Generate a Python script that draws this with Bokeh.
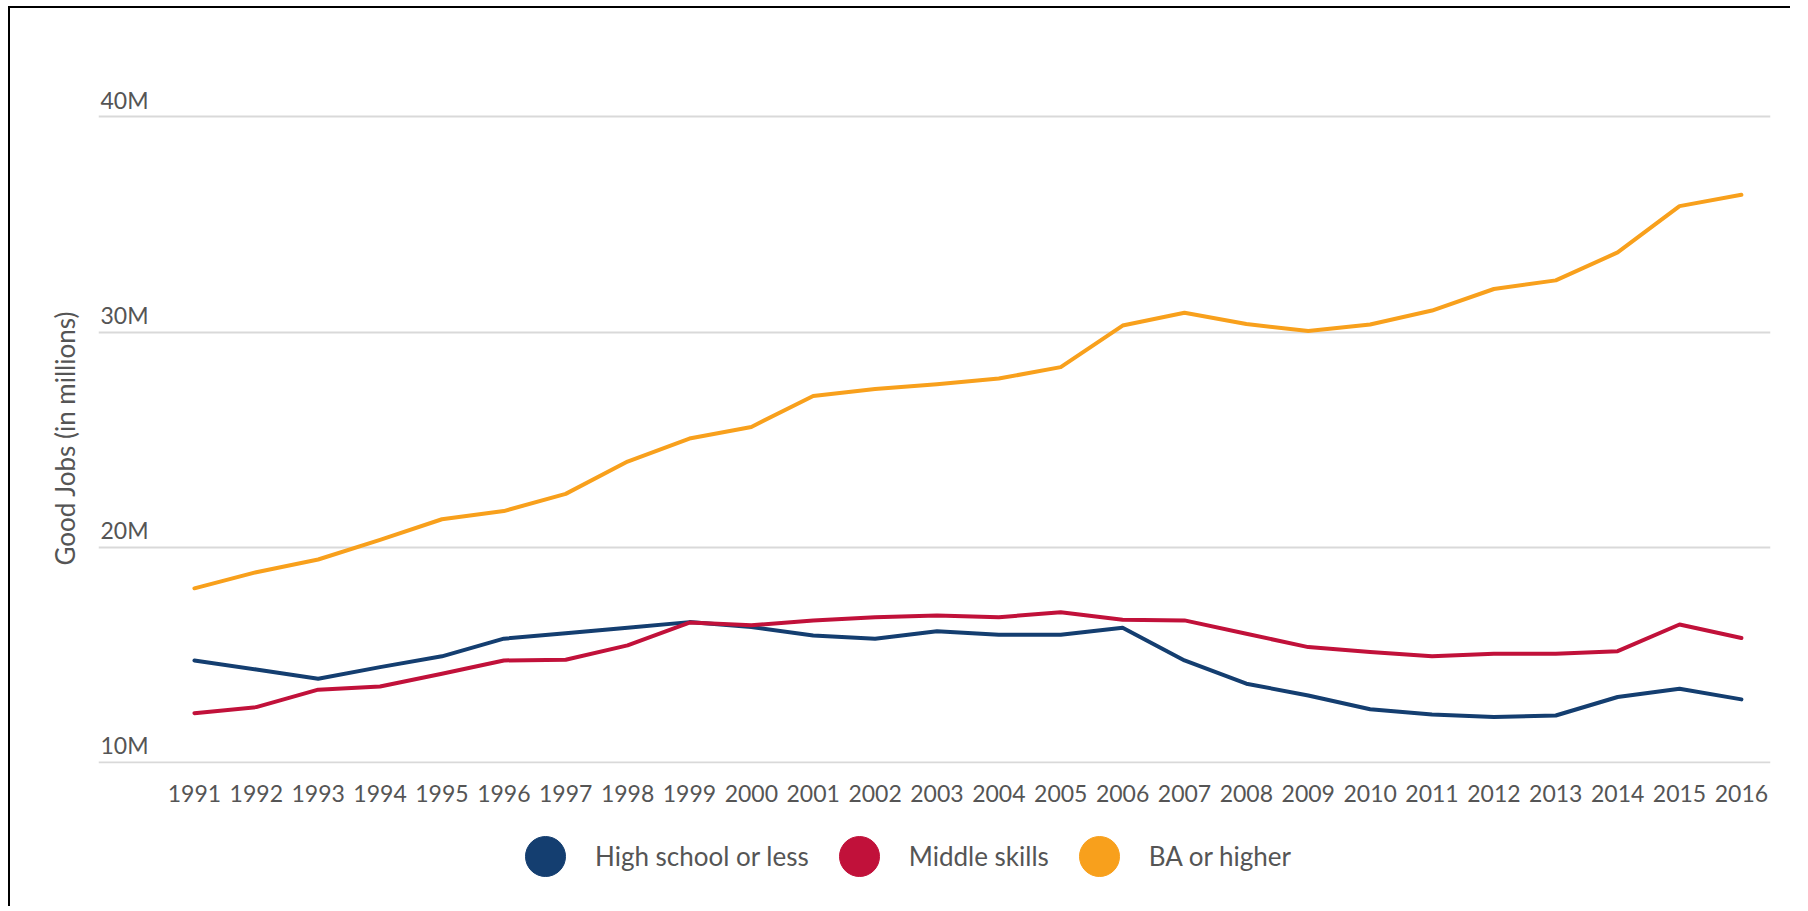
from bokeh.plotting import figure
from bokeh.layouts import column
from bokeh.models import ColumnDataSource, FixedTicker, Legend, LegendItem, Title
from bokeh.core.properties import value
from bokeh.embed import file_html
from bokeh.resources import INLINE

# ---- data (millions of good jobs) ----
years = list(range(1991, 2017))
high_school = [14.74, 14.32, 13.89, 14.43, 14.93, 15.75, 16.00, 16.26, 16.52, 16.29,
               15.90, 15.75, 16.10, 15.93, 15.93, 16.26, 14.74, 13.66, 13.11, 12.47,
               12.23, 12.11, 12.18, 13.04, 13.42, 12.93]
middle_skills = [12.29, 12.57, 13.38, 13.53, 14.12, 14.74, 14.77, 15.44, 16.50, 16.37,
                 16.60, 16.75, 16.83, 16.75, 16.98, 16.63, 16.60, 15.98, 15.36, 15.13,
                 14.93, 15.05, 15.05, 15.17, 16.41, 15.78]
ba_higher = [18.09, 18.84, 19.43, 20.34, 21.30, 21.68, 22.48, 23.98, 25.05, 25.59,
             27.03, 27.35, 27.57, 27.84, 28.37, 30.30, 30.90, 30.37, 30.05, 30.35,
             31.00, 32.00, 32.40, 33.70, 35.85, 36.38]
series_names = ["High school or less", "Middle skills", "BA or higher"]
y_ticks = [10, 20, 30, 40]
y_tick_labels = ["10M", "20M", "30M", "40M"]
y_title = "Good Jobs (in millions)"

# ---- styling ----
colors = ["#143e70", "#c1113a", "#f8a01c"]
fields = ["hs", "ms", "ba"]
FONT = "Lato"
TXT = "#555555"
X_START, X_END = 1989.45, 2016.47
Y_START, Y_END = 9.95, 41.41

src = ColumnDataSource(dict(year=years, hs=high_school, ms=middle_skills, ba=ba_higher))

# ---- main chart ----
p = figure(width=1780, height=798,
           x_range=(X_START, X_END), y_range=(Y_START, Y_END),
           output_backend="svg", toolbar_location=None, y_axis_location=None,
           min_border_left=88, min_border_right=20, min_border_top=78,
           min_border_bottom=43, background_fill_color="white",
           border_fill_color="white")
p.outline_line_color = None

p.xgrid.grid_line_color = None
p.ygrid.ticker = FixedTicker(ticks=y_ticks)
p.ygrid.grid_line_color = "#d9d9d9"
p.ygrid.grid_line_width = 2

p.xaxis.ticker = FixedTicker(ticks=years)
p.xaxis.axis_line_color = None
p.xaxis.major_tick_line_color = None
p.xaxis.minor_tick_line_color = None
p.xaxis.major_label_standoff = 15
p.xaxis.major_label_text_font = FONT
p.xaxis.major_label_text_font_size = "23px"
p.xaxis.major_label_text_color = TXT

for field, color in zip(fields, colors):
    p.line("year", field, source=src, line_color=color, line_width=4,
           line_join="round", line_cap="round")

# y tick labels sitting on top of the grid lines
lab_src = ColumnDataSource(dict(x=[X_START] * len(y_ticks), y=y_ticks, text=y_tick_labels))
p.text("x", "y", "text", source=lab_src, x_offset=2, y_offset=-17,
       text_baseline="alphabetic", text_align="left", text_font=value(FONT),
       text_font_size="23px", text_color=TXT)

# y-axis title
p.add_layout(Title(text=y_title, align="left", text_font=FONT, text_font_size="26px",
                   text_font_style="normal", text_color=TXT, standoff=35, offset=198), "left")

# ---- legend strip below the chart ----
lg = figure(width=1780, height=100, x_range=p.x_range, y_range=p.y_range,
            output_backend="svg", toolbar_location=None,
            x_axis_location=None, y_axis_location=None, min_border=0,
            background_fill_color="white", border_fill_color="white")
lg.outline_line_color = None
lg.xgrid.grid_line_color = None
lg.ygrid.grid_line_color = None

items = []
for name, field, color in zip(series_names, fields, colors):
    r = lg.scatter("year", field, source=src, marker="circle", size=0,
                   fill_color=color, line_color=color)
    items.append(LegendItem(label=name, renderers=[r]))
legend = Legend(items=items, orientation="horizontal", location=(397, 0),
                glyph_width=100, glyph_height=100, label_standoff=0, spacing=-9,
                padding=0, margin=0, border_line_color=None, background_fill_alpha=0,
                label_text_font=FONT, label_text_font_size="26px", label_text_color=TXT)
lg.add_layout(legend, "center")

layout = column(p, lg, spacing=0,
                styles={"border-top": "2px solid #000", "border-left": "2px solid #000",
                        "margin-left": "8px", "margin-top": "6px"})

open("out.html", "w").write(file_html(layout, INLINE))
